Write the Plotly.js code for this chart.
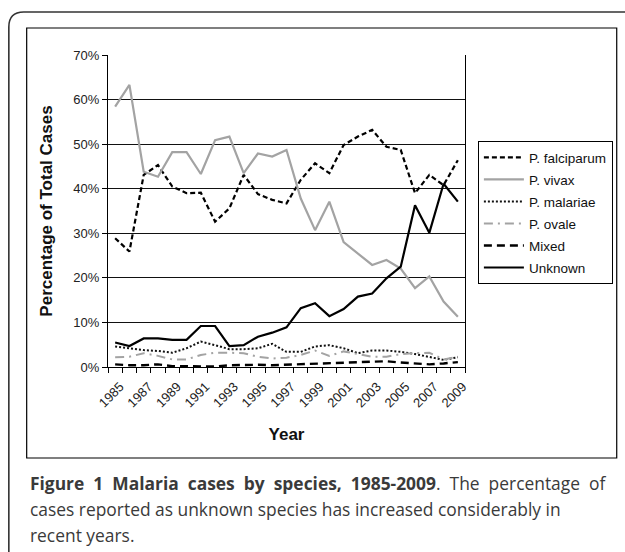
<!DOCTYPE html>
<html>
<head>
<meta charset="utf-8">
<script src="https://cdn.plot.ly/plotly-3.0.1.min.js"></script>
<style>
html,body{margin:0;padding:0;background:#fff;}
#chart{width:625px;height:552px;}
</style>
</head>
<body>
<div id="chart"></div>
<script>
const years = [1985,1986,1987,1988,1989,1990,1991,1992,1993,1994,1995,1996,1997,1998,1999,2000,2001,2002,2003,2004,2005,2006,2007,2008,2009];
const tickYears = [1985,1987,1989,1991,1993,1995,1997,1999,2001,2003,2005,2007,2009];
const falciparum = [28.9,25.9,43.1,45.3,40.5,39.0,39.1,32.6,35.6,43.1,38.8,37.5,36.7,42.0,45.7,43.5,49.8,51.7,53.2,49.4,48.7,39.0,43.1,40.8,46.4];
const vivax = [58.4,63.3,43.8,42.7,48.2,48.2,43.3,50.9,51.7,43.5,47.9,47.2,48.7,37.8,30.7,37.1,28.0,25.5,22.9,24.0,22.1,17.7,20.3,14.7,11.3];
const malariae = [4.6,4.2,3.8,3.6,3.2,4.2,5.7,4.9,4.0,4.0,4.2,5.2,3.4,3.4,4.6,4.9,4.2,3.1,3.7,3.7,3.4,2.9,2.3,1.6,2.2];
const ovale = [2.2,2.3,3.1,2.5,1.7,1.7,2.7,3.2,3.2,3.1,2.3,1.9,2.1,2.7,3.7,2.5,3.5,2.9,2.3,2.3,2.9,3.1,3.2,1.7,2.3];
const mixed = [0.6,0.4,0.4,0.6,0.2,0.2,0.1,0.1,0.4,0.5,0.5,0.4,0.5,0.6,0.7,0.8,1.0,1.0,1.1,1.3,1.0,0.8,0.6,0.8,1.1];
const unknown = [5.5,4.7,6.4,6.4,6.1,6.1,9.2,9.2,4.7,4.9,6.8,7.7,8.9,13.2,14.3,11.4,13.0,15.8,16.5,19.9,22.5,36.3,30.1,41.1,37.1];
const seriesNames = ['P. falciparum','P. vivax','P. malariae','P. ovale','Mixed','Unknown'];

const GRAY = '#a3a3a3';
const styles = [
  {color:'#000', width:2.2, dash:'5px,3px'},
  {color:GRAY, width:2.2, dash:'solid'},
  {color:'#111', width:2, dash:'2px,2px'},
  {color:GRAY, width:2, dash:'9px,5px,2px,5px'},
  {color:'#000', width:2.4, dash:'8px,5px'},
  {color:'#000', width:2.2, dash:'solid'}
];
const allSeries = [falciparum, vivax, malariae, ovale, mixed, unknown];

const traces = allSeries.map((vals,i)=>({
  x: years, y: vals, type:'scatter', mode:'lines', name: seriesNames[i],
  legendgroup: 'g'+i,
  line: Object.assign({}, styles[i]),
  hoverinfo:'skip'
}));

// pixel helpers for plot area: x 108..468, y 55..367
const L=108, R=468, T=55, B=367;
const px = v => (v - L)/(R-L);
const py = v => (B - v)/(B-T);

const NB = '\u00a0';
const J = ' ' + NB; // widened word gap to mimic the justified first caption line
const cap1 = ['<b>Figure','1','Malaria','cases','by','species,','1985-2009</b>.','The','percentage','of'].join(J);
const cap2 = 'cases reported as unknown species has increased considerably in';
const cap3 = 'recent years.';

const capFont = {family:'"Open Sans", sans-serif', size:17.4, color:'#3a3a3a'};

const layout = {
  width:625, height:552,
  margin:{l:L, r:625-R, t:T, b:552-B},
  paper_bgcolor:'#fff', plot_bgcolor:'#fff',
  font:{family:'"Liberation Sans", Arial, sans-serif', size:13, color:'#222'},
  showlegend:true,
  legend:{
    x: px(481), y: py(141), xanchor:'left', yanchor:'top',
    bordercolor:'#000', borderwidth:1, bgcolor:'#fff',
    font:{size:13.5, color:'#111'},
    traceorder:'grouped', tracegroupgap:1.5,
    itemwidth:40
  },
  xaxis:{
    type:'linear', range:[1984.5, 2009.5],
    tickmode:'array', tickvals: tickYears, ticktext: tickYears.map(String),
    tickangle:-45, ticks:'outside', ticklen:6, tickcolor:'rgba(0,0,0,0)',
    ticklabelshift:5,
    showgrid:false, zeroline:false,
    showline:true, linecolor:'#000', linewidth:1,
    tickfont:{size:13, color:'#222'},
    minor:{tick0:1984.5, dtick:1, ticks:'outside', ticklen:5, tickcolor:'#000', tickwidth:1, showgrid:false},
    title:{text:'<b>Year</b>' + NB.repeat(8), font:{size:17, color:'#111'}, standoff:18},
    automargin:false
  },
  yaxis:{
    range:[0,70], dtick:10, tick0:0, ticksuffix:'%',
    ticks:'outside', ticklen:5, tickcolor:'#000',
    showgrid:true, gridcolor:'#111', gridwidth:1,
    zeroline:false, showline:true, linecolor:'#000', linewidth:1,
    mirror:true,
    tickfont:{size:13, color:'#222'},
    title:{text: NB.repeat(6) + '<b>Percentage of Total Cases</b>', font:{size:17, color:'#111'}, standoff:16},
    automargin:false
  },
  shapes:[
    {type:'path', xref:'paper', yref:'paper',
     path:`M ${px(8)},${py(560)} L ${px(8)},${py(27)} Q ${px(8)},${py(12)} ${px(23)},${py(12)} L ${px(640)},${py(12)}`,
     line:{color:'#333', width:1.6}},
    {type:'rect', xref:'paper', yref:'paper',
     x0:px(26), x1:px(621), y0:py(458), y1:py(28),
     line:{color:'#000', width:1.2}, fillcolor:'rgba(0,0,0,0)', layer:'below'}
  ],
  annotations:[
    {xref:'paper', yref:'paper', x:px(27), y:py(483), xanchor:'left', yanchor:'middle', showarrow:false, text:cap1, font:capFont, align:'left'},
    {xref:'paper', yref:'paper', x:px(27), y:py(509), xanchor:'left', yanchor:'middle', showarrow:false, text:cap2, font:capFont, align:'left'},
    {xref:'paper', yref:'paper', x:px(27), y:py(535), xanchor:'left', yanchor:'middle', showarrow:false, text:cap3, font:capFont, align:'left'}
  ]
};

Plotly.newPlot('chart', traces, layout, {displayModeBar:false, staticPlot:true});
</script>
</body>
</html>
